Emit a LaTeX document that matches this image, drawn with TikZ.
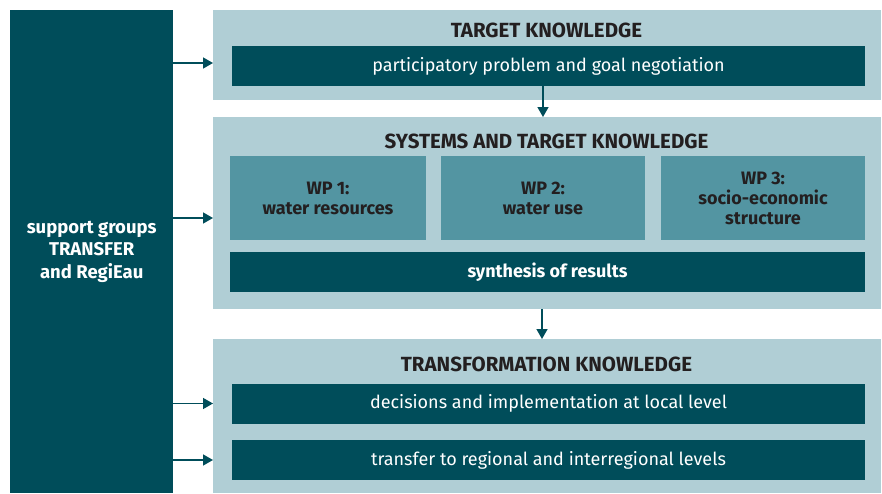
\documentclass[tikz,border=0pt]{standalone}
\usepackage{fontspec}
\setmainfont{Fira Sans}
\usetikzlibrary{arrows.meta}
\definecolor{darkteal}{RGB}{0,77,90}
\definecolor{lightteal}{RGB}{176,206,213}
\definecolor{midteal}{RGB}{83,149,162}
\definecolor{inkgray}{RGB}{35,31,32}
\begin{document}
\begin{tikzpicture}[x=1pt,y=-1pt]
            \tikzset{
                panel box/.style={rectangle,fill=lightteal,inner sep=0,minimum width=668,anchor=north west},
                dark bar/.style={rectangle,fill=darkteal,inner sep=0,minimum width=633,minimum height=40,
                    text=white,font=\fontsize{18}{21}\selectfont},
                wp box/.style={rectangle,fill=midteal,inner sep=0,minimum height=84,align=center,
                    text=inkgray,font=\fontsize{18}{20}\selectfont\bfseries},
                title text/.style={text=inkgray,font=\fontsize{20.5}{23}\selectfont\bfseries},
                link/.style={draw=darkteal,line width=1.5pt,-{Triangle[length=10pt,width=11pt]}}
            }
            \useasboundingbox (0,0) rectangle (882,493);
            % left column
            \node[rectangle,fill=darkteal,inner sep=0,minimum width=163,minimum height=483,anchor=north west,
                text=white,align=center,font=\fontsize{18.5}{22.5}\selectfont\bfseries] (support) at (10,10)
                {support groups\\TRANSFER\\and RegiEau};
            % target knowledge
            \node[panel box,minimum height=90] (target) at (213,10) {};
            \node[title text] (target title) at (546.5,30) {TARGET KNOWLEDGE};
            \node[dark bar] (negotiation) at (548.5,66) {participatory problem and goal negotiation};
            % systems and target knowledge
            \node[panel box,minimum height=192] (systems) at (213,117) {};
            \node[title text] (systems title) at (546.5,141) {SYSTEMS AND TARGET KNOWLEDGE};
            \node[wp box,minimum width=196] (wp1) at (328,198) {WP 1:\\water resources};
            \node[wp box,minimum width=204] (wp2) at (543,198) {WP 2:\\water use};
            \node[wp box,minimum width=204] (wp3) at (763,198) {WP 3:\\socio-economic\\structure};
            \node[dark bar,minimum width=635,font=\fontsize{18}{21}\selectfont\bfseries] (synthesis) at (547.5,272) {synthesis of results};
            % transformation knowledge
            \node[panel box,minimum height=154] (transform) at (213,339) {};
            \node[title text] (transform title) at (546.5,364) {TRANSFORMATION KNOWLEDGE};
            \node[dark bar] (local) at (548.5,403.5) {decisions and implementation at local level};
            \node[dark bar] (regional) at (548.5,460) {transfer to regional and interregional levels};
            % arrows
            \draw[link] (support.east |- 0,63) -- (target.west |- 0,63);
            \draw[link] (support.east |- 0,218) -- (systems.west |- 0,218);
            \draw[link] (support.east |- local) -- (transform.west |- local);
            \draw[link] (support.east |- regional) -- (transform.west |- regional);
            \draw[link] (negotiation.south -| 543,0) -- (systems.north -| 543,0);
            \draw[link] (systems.south -| 542,0) -- (transform.north -| 542,0);
\end{tikzpicture}
\end{document}
